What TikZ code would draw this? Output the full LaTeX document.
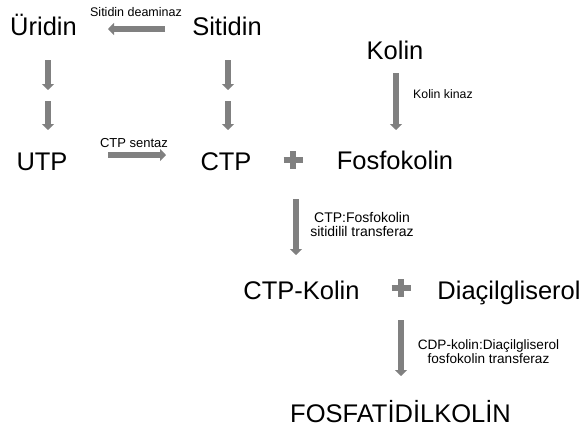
\documentclass[tikz,border=0pt]{standalone}
\usepackage{fontspec}
\setmainfont{Liberation Sans}
\usepackage{xcolor}
\usepackage{tikz}
\usetikzlibrary{arrows.meta, positioning, calc}
\definecolor{arrowgray}{RGB}{128, 128, 128}

\begin{document}
\begin{tikzpicture}[
    x=1pt, y=-1pt,
    molecule/.style={font=\fontsize{25.5}{28}\selectfont, inner sep=0pt, anchor=base},
    enzyme/.style={font=\fontsize{12.5}{15}\selectfont, align=center, inner sep=0pt},
    flow/.style={line width=6pt, arrowgray, -{Triangle[width=12pt, length=6pt]}},
    plusbar/.style={line width=6.5pt, arrowgray}
]
\useasboundingbox (0,0) rectangle (585,432);

% molecules
\node[molecule] (Uridin) at (43.5,35) {Üridin};
\node[molecule] (Sitidin) at (227,35) {Sitidin};
\node[molecule] (Kolin) at (395,59) {Kolin};
\node[molecule] (UTP) at (42,170) {UTP};
\node[molecule] (CTP) at (226,170) {CTP};
\node[molecule] (Fosfokolin) at (395,169) {Fosfokolin};
\node[molecule] (CTPKolin) at (301.5,299) {CTP-Kolin};
\node[molecule] (DAG) at (509,299) {Diaçilgliserol};
\node[molecule] (PC) at (400.5,422) {FOSFATİDİLKOLİN};

% arrow ends
\coordinate (deamS) at (165,29);  \coordinate (deamE) at (108,29);
\coordinate (uA1) at (48,60);     \coordinate (uA2) at (48,90);
\coordinate (uB1) at (48,101);    \coordinate (uB2) at (48,130);
\coordinate (sA1) at (228,60);    \coordinate (sA2) at (228,90);
\coordinate (sB1) at (228,101);   \coordinate (sB2) at (228,130);
\coordinate (sentS) at (108,155); \coordinate (sentE) at (166,155);
\coordinate (kinS) at (396,73);   \coordinate (kinE) at (396,130);
\coordinate (cctS) at (296,199);  \coordinate (cctE) at (296,255);
\coordinate (cptS) at (401,320);  \coordinate (cptE) at (401,376);

\draw[flow] (deamS) -- (deamE);
\draw[flow] (uA1) -- (uA2);
\draw[flow] (uB1) -- (uB2);
\draw[flow] (sA1) -- (sA2);
\draw[flow] (sB1) -- (sB2);
\draw[flow] (sentS) -- (sentE);
\draw[flow] (kinS) -- (kinE);
\draw[flow] (cctS) -- (cctE);
\draw[flow] (cptS) -- (cptE);

% enzymes
\node[enzyme] (deaminaz) at (136,12) {Sitidin deaminaz};
\node[enzyme, font=\fontsize{13}{15}\selectfont] (sentaz) at (134,143) {CTP sentaz};
\node[enzyme, font=\fontsize{12.3}{15}\selectfont, anchor=west] (kinaz) at (413,94) {Kolin kinaz};
\node[enzyme, font=\fontsize{14}{14}\selectfont] (cct) at (362,224) {CTP:Fosfokolin\\sitidilil transferaz};
\node[enzyme, font=\fontsize{13.6}{13.5}\selectfont] (cpt) at (488.5,351.5) {CDP-kolin:Diaçilgliserol\\fosfokolin transferaz};

% plus signs
\coordinate (plusA) at (293,160);
\coordinate (plusB) at (401,288);
\foreach \p in {plusA, plusB} {
  \draw[plusbar] ($(\p)+(-9.5,0)$) -- ($(\p)+(9.5,0)$);
  \draw[plusbar] ($(\p)+(0,-9)$) -- ($(\p)+(0,9)$);
}
\end{tikzpicture}
\end{document}
